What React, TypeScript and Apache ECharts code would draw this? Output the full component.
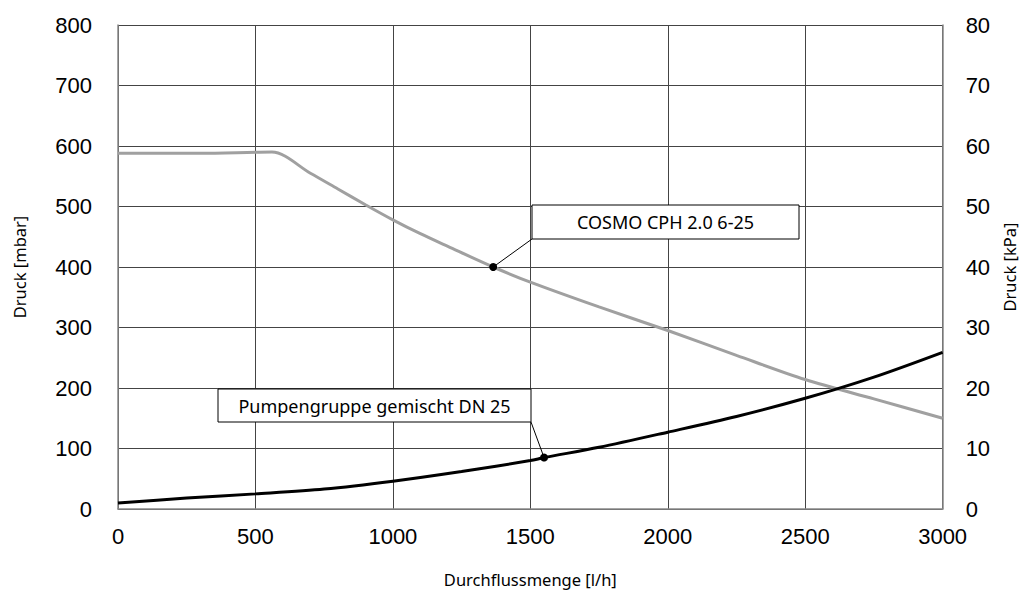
import React, { useEffect, useRef } from "react";
import * as echarts from "echarts";

const flowCosmo = [0, 300, 560, 700, 800, 900, 1000, 1100, 1200, 1365, 1500, 1750, 2000, 2250, 2500, 2750, 3000];
const pressCosmo = [588, 588, 590, 555, 529, 503, 478, 455, 434, 400, 375, 334, 295, 254, 214, 182, 150];

const flowPump = [0, 250, 500, 750, 1000, 1250, 1500, 1550, 1750, 2000, 2250, 2500, 2750, 3000];
const pressPump = [10, 18, 25, 33, 46, 62, 80, 85, 102, 127, 153, 183, 218, 259];

const cosmoLabel = "COSMO CPH 2.0 6-25";
const pumpLabel = "Pumpengruppe gemischt DN 25";
const cosmoPoint = [1365, 400];
const pumpPoint = [1550, 85];

const FONT_TICK = "Liberation Sans, Arial, sans-serif";
const FONT_TXT = "Noto Sans, sans-serif";

export default function App() {
  const ref = useRef<HTMLDivElement>(null);
  useEffect(() => {
    document.body.style.margin = "0";
    if (!ref.current) return;
    const chart = echarts.init(ref.current, null, { renderer: "svg" });
    const gridColor = "#444";
    const fmt = (v: number) => String(v);
    chart.setOption({
      animation: false,
      grid: { left: 118, right: 82, top: 25, bottom: 88 },
      xAxis: {
        type: "value",
        min: 0,
        max: 3000,
        interval: 500,
        name: "Durchflussmenge [l/h]",
        nameLocation: "middle",
        nameGap: 62,
        nameTextStyle: { fontFamily: FONT_TXT, fontSize: 16.5, color: "#000" },
        axisLine: { show: true, lineStyle: { color: "#888", width: 1.5 } },
        axisTick: { show: false },
        axisLabel: { fontFamily: FONT_TICK, fontSize: 22, color: "#000", margin: 16, formatter: fmt },
        splitLine: { show: true, lineStyle: { color: gridColor, width: 1 } },
      },
      yAxis: [
        {
          type: "value",
          min: 0,
          max: 800,
          interval: 100,
          name: "Druck [mbar]",
          nameLocation: "middle",
          nameGap: 90,
          nameTextStyle: { fontFamily: FONT_TXT, fontSize: 16.5, color: "#000" },
          axisLine: { show: true, lineStyle: { color: "#888", width: 1.5 } },
          axisTick: { show: false },
          axisLabel: { fontFamily: FONT_TICK, fontSize: 22, color: "#000", margin: 26, formatter: fmt },
          splitLine: { show: true, lineStyle: { color: gridColor, width: 1 } },
        },
        {
          type: "value",
          min: 0,
          max: 80,
          interval: 10,
          position: "right",
          name: "Druck [kPa]",
          nameLocation: "middle",
          nameGap: 58,
          nameRotate: 90,
          nameTextStyle: { fontFamily: FONT_TXT, fontSize: 16.5, color: "#000" },
          axisLine: { show: true, lineStyle: { color: "#888", width: 1.5 } },
          axisTick: { show: false },
          axisLabel: { fontFamily: FONT_TICK, fontSize: 22, color: "#000", margin: 23, formatter: fmt },
          splitLine: { show: false },
        },
      ],
      series: [
        {
          type: "line",
          name: cosmoLabel,
          data: flowCosmo.map((x, i) => [x, pressCosmo[i]]),
          smooth: 0.3,
          showSymbol: false,
          lineStyle: { color: "#a0a0a0", width: 3 },
          markPoint: {
            symbol: "circle",
            symbolSize: 8,
            itemStyle: { color: "#000" },
            label: { show: false },
            data: [{ coord: cosmoPoint }],
          },
          z: 3,
        },
        {
          type: "line",
          name: pumpLabel,
          data: flowPump.map((x, i) => [x, pressPump[i]]),
          smooth: 0.3,
          showSymbol: false,
          lineStyle: { color: "#000", width: 3 },
          markPoint: {
            symbol: "circle",
            symbolSize: 8,
            itemStyle: { color: "#000" },
            label: { show: false },
            data: [{ coord: pumpPoint }],
          },
          z: 4,
        },
      ],
    });
    const cp = chart.convertToPixel({ gridIndex: 0 }, cosmoPoint) as number[];
    const pp = chart.convertToPixel({ gridIndex: 0 }, pumpPoint) as number[];
    const boxA = { x: 532, y: 205, w: 267, h: 34 };
    const boxB = { x: 218, y: 389, w: 313, h: 33 };
    chart.setOption({
      graphic: [
        { type: "line", shape: { x1: boxA.x, y1: boxA.y + boxA.h, x2: cp[0], y2: cp[1] }, style: { stroke: "#000", lineWidth: 1 }, z: 10 },
        { type: "rect", shape: { x: boxA.x, y: boxA.y, width: boxA.w, height: boxA.h }, style: { fill: "#fff", stroke: "#000", lineWidth: 1 }, z: 10 },
        { type: "text", x: boxA.x + boxA.w / 2, y: boxA.y + boxA.h / 2, style: { text: cosmoLabel, fontFamily: FONT_TXT, fontSize: 18, fill: "#000", align: "center", verticalAlign: "middle" }, z: 11 },
        { type: "line", shape: { x1: boxB.x + boxB.w, y1: boxB.y + boxB.h, x2: pp[0], y2: pp[1] }, style: { stroke: "#000", lineWidth: 1 }, z: 10 },
        { type: "rect", shape: { x: boxB.x, y: boxB.y, width: boxB.w, height: boxB.h }, style: { fill: "#fff", stroke: "#000", lineWidth: 1 }, z: 10 },
        { type: "text", x: boxB.x + boxB.w / 2, y: boxB.y + boxB.h / 2, style: { text: pumpLabel, fontFamily: FONT_TXT, fontSize: 18, fill: "#000", align: "center", verticalAlign: "middle" }, z: 11 },
      ],
    });
    return () => chart.dispose();
  }, []);
  return <div ref={ref} style={{ width: 1026, height: 597 }} />;
}
